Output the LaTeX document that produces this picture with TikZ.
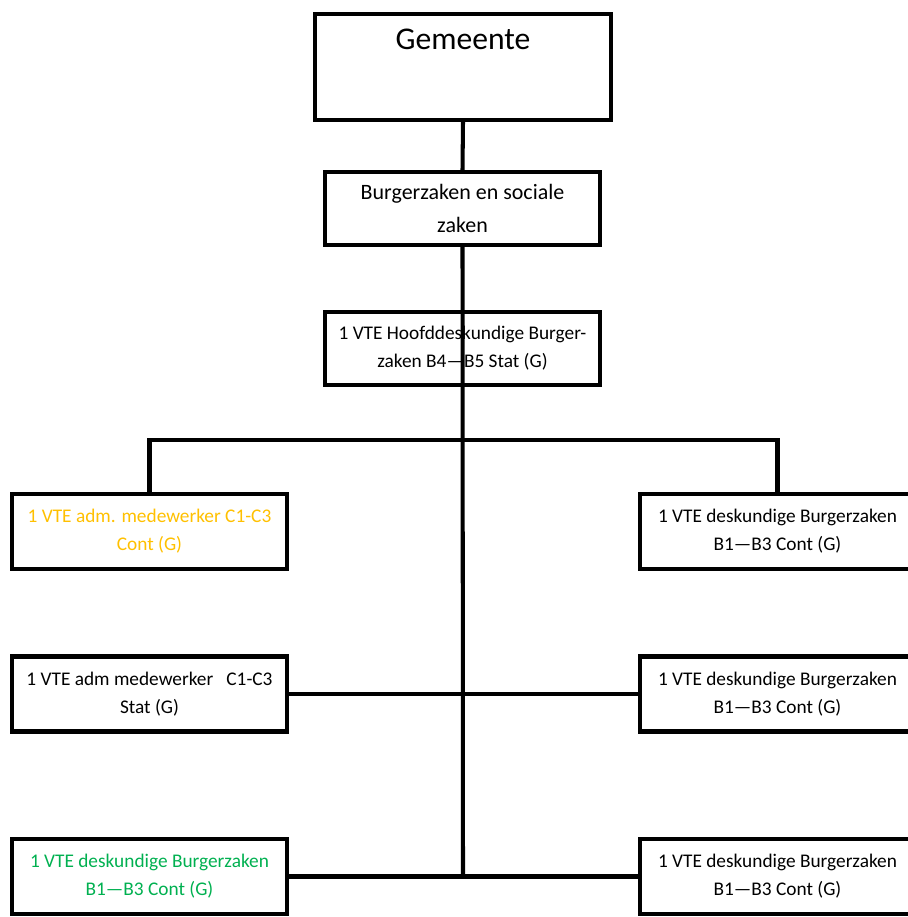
\documentclass[tikz,border=0pt]{standalone}
\usepackage{fontspec}
\setmainfont{Carlito}
\usepackage{xcolor}
\usetikzlibrary{positioning}
\definecolor{vteorange}{RGB}{255,192,0}
\definecolor{vtegreen}{RGB}{0,176,80}

\begin{document}
\begin{tikzpicture}[x=0.02cm, y=-0.02cm, line width=2.3pt,
  box/.style={rectangle, draw, minimum width=5.5cm, minimum height=1.5cm, align=center, inner sep=2pt, font=\fontsize{11}{15.9}\selectfont}]
\useasboundingbox (0,0) rectangle (907,917);

% top
\node[rectangle, draw, minimum width=5.92cm, minimum height=2.12cm,
  label={[anchor=base, yshift=-0.76cm, font=\fontsize{18}{22}\selectfont]north:Gemeente}] (gem) at (463,67) {};
\node[box, minimum height=1.46cm, font=\fontsize{12.5}{18.7}\selectfont] (bsz) at (462.5,208.5) {Burgerzaken en sociale\\zaken};
\node[box, minimum height=1.46cm] (hfd) at (462.5,348.5) {1 VTE Hoofddeskundige Burger-\\zaken B4---B5 Stat (G)};

% left
\node[box, text=vteorange] (adm1) at (149.5,531.5) {1 VTE adm. medewerker C1-C3\\Cont (G)};
\node[box] (adm2) at (149.5,694) {1 VTE adm medewerker \ \ C1-C3\\Stat (G)};
\node[box, text=vtegreen] (desk1) at (149.5,876.5) {1 VTE deskundige Burgerzaken\\B1---B3 Cont (G)};

% right
\node[box] (desk2) at (777.5,531.5) {1 VTE deskundige Burgerzaken\\B1---B3 Cont (G)};
\node[box] (desk3) at (777.5,694) {1 VTE deskundige Burgerzaken\\B1---B3 Cont (G)};
\node[box] (desk4) at (777.5,876.5) {1 VTE deskundige Burgerzaken\\B1---B3 Cont (G)};

% lines
\coordinate (fork) at (463,440);
\coordinate (spine) at (463,876.5);
\draw (gem.south) -- (bsz.north);
\draw (bsz.south) -- (spine);
\draw (adm1.north) |- (fork) -| (desk2.north);
\draw (adm2.east) -- (desk3.west);
\draw (desk1.east) -- (desk4.west);

\end{tikzpicture}
\end{document}
